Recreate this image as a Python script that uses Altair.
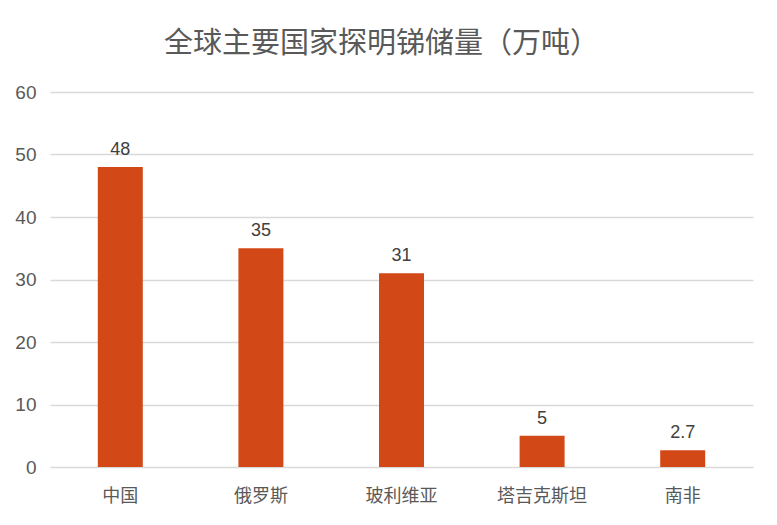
import altair as alt
import pandas as pd

countries = ["中国", "俄罗斯", "玻利维亚", "塔吉克斯坦", "南非"]
reserves = [48, 35, 31, 5, 2.7]
labels = ["48", "35", "31", "5", "2.7"]

df = pd.DataFrame({"country": countries, "value": reserves, "label": labels})

FONT = "Liberation Sans, Noto Sans CJK SC, sans-serif"

x = alt.X("country:N", sort=countries, title=None,
          scale=alt.Scale(paddingInner=0.68, paddingOuter=0.34),
          axis=alt.Axis(labelAngle=0, labelFontSize=18, labelColor="#595959",
                        labelFont=FONT, domain=False, ticks=False, grid=False,
                        labelPadding=20))
y = alt.Y("value:Q", title=None,
          scale=alt.Scale(domain=[0, 60]),
          axis=alt.Axis(values=[0, 10, 20, 30, 40, 50, 60], labelFontSize=19,
                        labelColor="#595959", labelFont=FONT, domain=False, ticks=False,
                        labelPadding=14, gridColor="#D9D9D9", gridWidth=1.5))

bars = alt.Chart(df).mark_bar(color="#D34817").encode(x=x, y=y)
text = alt.Chart(df).mark_text(dy=-12, baseline="alphabetic", fontSize=18,
                               color="#404040", font=FONT).encode(
    x=alt.X("country:N", sort=countries), y="value:Q", text="label:N")

chart = (bars + text).properties(
    width=703, height=375,
    title=alt.TitleParams("全球主要国家探明锑储量（万吨）", fontSize=29, font=FONT,
                          color="#595959", fontWeight="normal", offset=24,
                          anchor="middle", dx=-20),
    autosize=alt.AutoSizeParams(type="none"),
    padding={"left": 42, "top": 84, "right": 16, "bottom": 42},
).configure(background="white").configure_view(stroke="transparent", strokeWidth=0)

chart.save("out.html", embed_options={"renderer": "svg", "actions": False})
